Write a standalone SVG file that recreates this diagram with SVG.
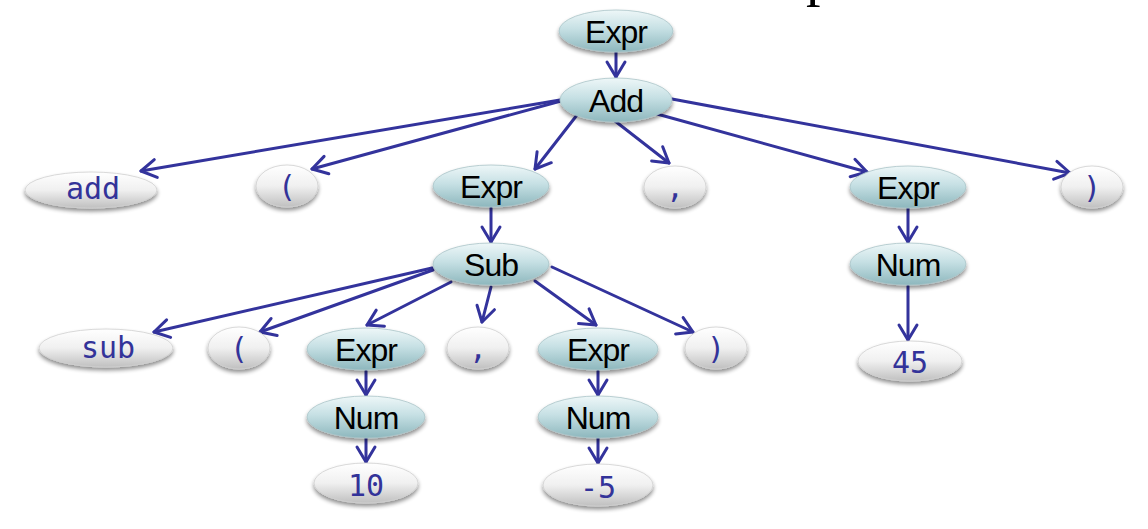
<svg xmlns="http://www.w3.org/2000/svg" width="1148" height="529" viewBox="0 0 1148 529">
<defs>
<linearGradient id="gNT" x1="0" y1="0" x2="0" y2="1">
<stop offset="0" stop-color="#eef7f8"/>
<stop offset="0.45" stop-color="#c6e0e4"/>
<stop offset="1" stop-color="#8db7bd"/>
</linearGradient>
<linearGradient id="gT" x1="0" y1="0" x2="0" y2="1">
<stop offset="0" stop-color="#ffffff"/>
<stop offset="0.5" stop-color="#f0f0f0"/>
<stop offset="1" stop-color="#c0c0c0"/>
</linearGradient>
<filter id="sh" x="-20%" y="-30%" width="140%" height="170%">
<feGaussianBlur in="SourceAlpha" stdDeviation="2"/>
<feOffset dx="0" dy="3" result="b"/>
<feComponentTransfer><feFuncA type="linear" slope="0.45"/></feComponentTransfer>
<feMerge><feMergeNode/><feMergeNode in="SourceGraphic"/></feMerge>
</filter>
<marker id="ah" markerUnits="userSpaceOnUse" viewBox="-18 -12 21 24" refX="0" refY="0" markerWidth="21" markerHeight="24" orient="auto">
<path d="M-15,-9 L0,0 L-15,9" fill="none" stroke="#33339c" stroke-width="3" stroke-linecap="round" stroke-linejoin="round"/>
</marker>
</defs>
<style>
.nt ellipse{fill:url(#gNT);stroke:#a9c4c8;stroke-width:0.8;filter:url(#sh)}
.t ellipse{fill:url(#gT);stroke:#cfcfcf;stroke-width:0.8;filter:url(#sh)}
.nt text{font-family:"Liberation Sans",Arial,sans-serif;font-size:32px;fill:#000;text-anchor:middle;letter-spacing:-1px}
.t text{font-family:"DejaVu Sans Mono",monospace;font-size:30px;fill:#333399;text-anchor:middle}
#edges line{stroke:#33339c;stroke-width:3;stroke-linecap:round;marker-end:url(#ah)}
</style>
<rect width="1148" height="529" fill="#ffffff"/>
<text x="806" y="-5" font-family="'Liberation Serif',serif" font-size="58" fill="#000">p</text>
<g id="edges">
<line x1="616" y1="52" x2="616" y2="77"/>
<line x1="560" y1="100" x2="141" y2="171"/>
<line x1="561" y1="101" x2="312" y2="169"/>
<line x1="577" y1="115" x2="535" y2="169"/>
<line x1="615" y1="121" x2="669" y2="163"/>
<line x1="657" y1="114" x2="867" y2="172"/>
<line x1="672" y1="99" x2="1070" y2="173"/>
<line x1="491" y1="208" x2="491" y2="242"/>
<line x1="908" y1="208" x2="908" y2="242"/>
<line x1="908" y1="286" x2="908" y2="340"/>
<line x1="432" y1="268" x2="154" y2="332"/>
<line x1="433" y1="270" x2="260" y2="332"/>
<line x1="451" y1="282" x2="367" y2="325"/>
<line x1="491" y1="287" x2="482" y2="322"/>
<line x1="535" y1="281" x2="596" y2="325"/>
<line x1="552" y1="267" x2="693" y2="332"/>
<line x1="366" y1="371" x2="366" y2="395"/>
<line x1="366" y1="438" x2="366" y2="462"/>
<line x1="598" y1="371" x2="598" y2="395"/>
<line x1="598" y1="438" x2="598" y2="463"/>
</g>
<g id="n_expr0" class="nt"><ellipse cx="616" cy="31" rx="57" ry="21"/><text x="616" y="43">Expr</text></g>
<g id="n_add" class="nt"><ellipse cx="616" cy="100" rx="56" ry="22"/><text x="616" y="112">Add</text></g>
<g id="n_addkw" class="t"><ellipse cx="91" cy="190" rx="66" ry="18"/><text x="93" y="199">add</text></g>
<g id="n_lp1" class="t"><ellipse cx="287" cy="186" rx="31" ry="21"/><text x="287" y="197">(</text></g>
<g id="n_expr1" class="nt"><ellipse cx="491" cy="186" rx="58" ry="21"/><text x="491" y="198">Expr</text></g>
<g id="n_comma1" class="t"><ellipse cx="675" cy="187" rx="31" ry="21"/><text x="675" y="198">,</text></g>
<g id="n_expr2" class="nt"><ellipse cx="908" cy="187" rx="58" ry="21"/><text x="908" y="199">Expr</text></g>
<g id="n_rp1" class="t"><ellipse cx="1092" cy="187" rx="31" ry="21"/><text x="1092" y="198">)</text></g>
<g id="n_sub" class="nt"><ellipse cx="491" cy="264" rx="58" ry="21"/><text x="491" y="276">Sub</text></g>
<g id="n_num2" class="nt"><ellipse cx="908" cy="264" rx="58" ry="21"/><text x="908" y="276">Num</text></g>
<g id="n_45" class="t"><ellipse cx="910" cy="361" rx="52" ry="20"/><text x="910" y="373">45</text></g>
<g id="n_subkw" class="t"><ellipse cx="106" cy="348" rx="67" ry="19"/><text x="108" y="358">sub</text></g>
<g id="n_lp2" class="t"><ellipse cx="239" cy="348" rx="31" ry="21"/><text x="239" y="359">(</text></g>
<g id="n_expr3" class="nt"><ellipse cx="366" cy="349" rx="59" ry="21"/><text x="366" y="361">Expr</text></g>
<g id="n_comma2" class="t"><ellipse cx="478" cy="348" rx="31" ry="21"/><text x="478" y="359">,</text></g>
<g id="n_expr4" class="nt"><ellipse cx="598" cy="349" rx="60" ry="21"/><text x="598" y="361">Expr</text></g>
<g id="n_rp2" class="t"><ellipse cx="716" cy="348" rx="31" ry="21"/><text x="716" y="359">)</text></g>
<g id="n_num3" class="nt"><ellipse cx="366" cy="417" rx="59" ry="21"/><text x="366" y="429">Num</text></g>
<g id="n_num4" class="nt"><ellipse cx="598" cy="417" rx="60" ry="21"/><text x="598" y="429">Num</text></g>
<g id="n_10" class="t"><ellipse cx="366" cy="483" rx="52" ry="20"/><text x="366" y="496">10</text></g>
<g id="n_m5" class="t"><ellipse cx="598" cy="485" rx="55" ry="21"/><text x="598" y="498">-5</text></g>
</svg>
